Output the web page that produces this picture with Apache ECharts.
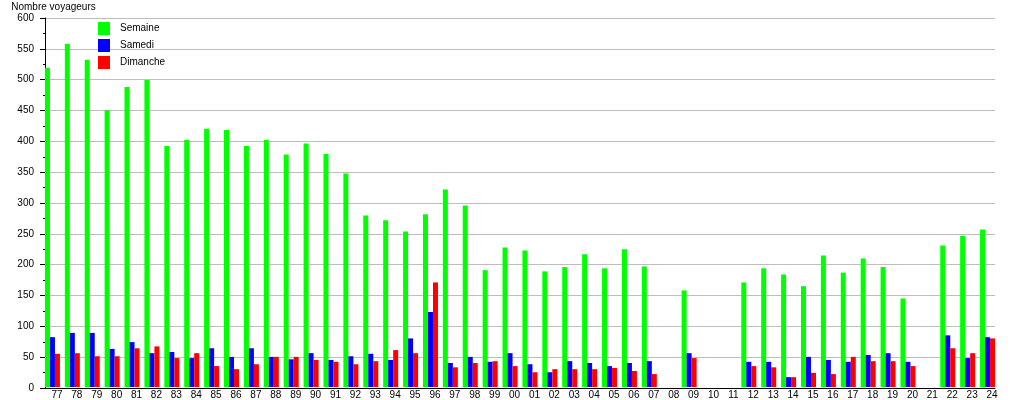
<!DOCTYPE html>
<html>
<head>
<meta charset="utf-8">
<script src="https://cdn.jsdelivr.net/npm/echarts@6/dist/echarts.min.js"></script>
<style>
  html, body { margin: 0; padding: 0; background: #fff; }
  #chart { width: 1015px; height: 400px; }
</style>
</head>
<body>
<div id="chart"></div>
<script>
// années (77 -> 24)
const annees = [
  "77", "78", "79", "80", "81", "82", "83", "84", "85", "86", "87", "88",
  "89", "90", "91", "92", "93", "94", "95", "96", "97", "98", "99", "00",
  "01", "02", "03", "04", "05", "06", "07", "08", "09", "10", "11", "12",
  "13", "14", "15", "16", "17", "18", "19", "20", "21", "22", "23", "24"
];
const semaine = [
  519, 558, 532, 450, 488, 499, 392, 402, 420, 418, 392, 402,
  378, 396, 379, 347, 279, 271, 253, 281, 321, 295, 190, 227,
  222, 188, 195, 216, 193, 224, 196, null, 157, null, null, 170,
  193, 183, 164, 214, 186, 209, 195, 144, null, 230, 246, 256
];
const samedi = [
  81, 88, 88, 62, 73, 55, 57, 47, 63, 49, 63, 49,
  45, 55, 44, 50, 54, 44, 79, 122, 39, 49, 41, 55,
  37, 24, 42, 39, 34, 39, 42, null, 55, null, null, 41,
  41, 16, 49, 44, 41, 52, 55, 41, null, 84, 47, 81
];
const dimanche = [
  54, 55, 50, 50, 63, 66, 47, 55, 34, 29, 37, 49,
  49, 44, 41, 37, 42, 60, 55, 170, 32, 39, 42, 34,
  24, 29, 29, 29, 31, 26, 21, null, 47, null, null, 34,
  32, 16, 23, 21, 49, 42, 42, 34, null, 63, 55, 79
];
const yMin = 0;
const yMax = 600;
const yInterval = 50;

const police = "Liberation Sans";
const chart = echarts.init(document.getElementById("chart"), null, { renderer: "canvas" });

chart.setOption({
  animation: false,
  textStyle: { fontFamily: police },
  legend: {
    orient: "vertical",
    left: 98,
    top: 22,
    padding: 0,
    itemWidth: 12,
    itemHeight: 13,
    itemGap: 4,
    icon: "rect",
    data: ["Semaine", "Samedi", "Dimanche"],
    textStyle: { fontSize: 10, color: "#000", fontFamily: police, padding: [0, 0, 0, 5] }
  },
  // grid 0 : axes et grille, grid 1 : barres (décalées comme l'original)
  grid: [
    { left: 45, right: 20, top: 18, bottom: 12 },
    { left: 42.5, right: 17.5, top: 18, bottom: 12 }
  ],
  xAxis: [
    {
      type: "category",
      gridIndex: 0,
      data: annees,
      axisLine: { lineStyle: { color: "#000", width: 1 } },
      axisTick: { show: false },
      axisLabel: { show: false },
      splitLine: { show: false }
    },
    {
      type: "category",
      gridIndex: 1,
      data: annees,
      axisLine: { show: false },
      axisTick: { show: false },
      axisLabel: {
        color: "#000",
        fontSize: 10,
        fontFamily: police,
        margin: 3,
        interval: 0,
        padding: [0, 0, 0, 9]
      }
    }
  ],
  yAxis: [
    {
      type: "value",
      gridIndex: 0,
      min: yMin,
      max: yMax,
      interval: yInterval,
      name: "Nombre voyageurs",
      nameLocation: "end",
      nameGap: 6,
      nameTextStyle: { color: "#000", fontSize: 10, fontFamily: police, align: "center", padding: [0, 0, 0, 17] },
      axisLine: { show: true, lineStyle: { color: "#000", width: 1 } },
      axisTick: { show: true, length: 5, lineStyle: { color: "#000" } },
      minorTick: { show: true, splitNumber: 2, length: 2, lineStyle: { color: "#000" } },
      axisLabel: { color: "#000", fontSize: 10, fontFamily: police, margin: 11 },
      splitLine: { show: true, lineStyle: { color: "#bdbdbd", width: 1 } }
    },
    {
      type: "value",
      gridIndex: 1,
      min: yMin,
      max: yMax,
      interval: yInterval,
      show: false,
      splitLine: { show: false }
    }
  ],
  series: [
    {
      name: "Semaine",
      type: "bar",
      xAxisIndex: 1,
      yAxisIndex: 1,
      data: semaine,
      barWidth: 5,
      barGap: "0%",
      itemStyle: { color: "#00ff00" }
    },
    {
      name: "Samedi",
      type: "bar",
      xAxisIndex: 1,
      yAxisIndex: 1,
      data: samedi,
      barWidth: 5,
      barGap: "0%",
      itemStyle: { color: "#0000ff" }
    },
    {
      name: "Dimanche",
      type: "bar",
      xAxisIndex: 1,
      yAxisIndex: 1,
      data: dimanche,
      barWidth: 5,
      barGap: "0%",
      itemStyle: { color: "#ff0000" }
    }
  ]
});
</script>
</body>
</html>
